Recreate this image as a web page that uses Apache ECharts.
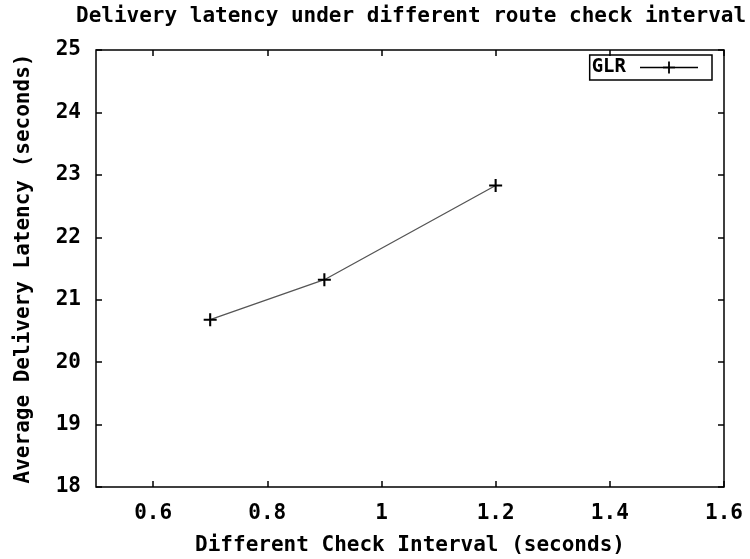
<!DOCTYPE html>
<html>
<head>
<meta charset="utf-8">
<script src="https://cdn.jsdelivr.net/npm/echarts@6/dist/echarts.min.js"></script>
<style>html,body{margin:0;padding:0;background:#fff}#c{width:750px;height:559px}</style>
</head>
<body>
<div id="c"></div>
<script>
var checkInterval = [0.7, 0.9, 1.2];
var glrLatency = [20.68, 21.32, 22.83];
var xTicks = [0.6, 0.8, 1, 1.2, 1.4, 1.6];
var yTicks = [18, 19, 20, 21, 22, 23, 24, 25];

var FONT = 'DejaVu Sans Mono';
var chart = echarts.init(document.getElementById('c'), null, {renderer: 'canvas'});
var cross = 'path://M4.2,0H5.8V4.2H10V5.8H5.8V10H4.2V5.8H0V4.2H4.2Z';
var legendIcon = 'path://M0,5.3H58V6.7H0Z M28.1,0H29.9V5.1H35V6.9H29.9V12H28.1V6.9H23V5.1H28.1Z';

var pts = checkInterval.map(function (x, i) { return [x, glrLatency[i]]; });

function xAxisBase(pos, showLabel) {
  return {
    type: 'value', position: pos, min: 0.5, max: 1.6,
    axisLine: {show: false},
    splitLine: {show: false},
    axisTick: {show: true, inside: true, length: 6, customValues: xTicks, lineStyle: {color: '#000', width: 1.5}},
    axisLabel: {show: showLabel, customValues: xTicks, color: '#000', fontFamily: FONT, fontWeight: 'bold', fontSize: 21, margin: 16}
  };
}
function yAxisBase(pos, showLabel) {
  return {
    type: 'value', position: pos, min: 18, max: 25, interval: 1,
    axisLine: {show: false},
    splitLine: {show: false},
    axisTick: {show: true, inside: true, length: 6, customValues: yTicks, lineStyle: {color: '#000', width: 1.5}},
    axisLabel: {show: showLabel, customValues: yTicks, color: '#000', fontFamily: FONT, fontWeight: 'bold', fontSize: 21, margin: 15}
  };
}

var xb = xAxisBase('bottom', true);
xb.name = 'Different Check Interval (seconds)';
xb.nameLocation = 'middle';
xb.nameGap = 48;
xb.nameTextStyle = {color: '#000', fontFamily: FONT, fontWeight: 'bold', fontSize: 21};
var xt = xAxisBase('top', false);

var yl = yAxisBase('left', true);
yl.name = 'Average Delivery Latency (seconds)';
yl.nameLocation = 'middle';
yl.nameGap = 62;
yl.nameTextStyle = {color: '#000', fontFamily: FONT, fontWeight: 'bold', fontSize: 21};
var yr = yAxisBase('right', false);

chart.setOption({
  animation: false,
  backgroundColor: '#fff',
  title: {
    text: 'Delivery latency under different route check interval',
    left: 71, top: 1,
    textStyle: {color: '#000', fontFamily: FONT, fontWeight: 'bold', fontSize: 21}
  },
  grid: {left: 96, right: 26, top: 50, bottom: 72, outerBoundsMode: 'none', containLabel: false,
    show: true, borderColor: '#000', borderWidth: 1.5, backgroundColor: 'transparent'},
  legend: {
    show: true, right: 38, top: 55, align: 'right', orient: 'horizontal',
    padding: [3, 14, 3, 2], itemGap: 0, itemWidth: 58, itemHeight: 12,
    borderColor: '#000', borderWidth: 1.5,
    textStyle: {color: '#000', fontFamily: FONT, fontWeight: 'bold', fontSize: 19, padding: [0, 9, 0, 0]},
    data: [{name: 'GLR', icon: legendIcon, itemStyle: {color: '#000'}}]
  },
  xAxis: [xb, xt],
  yAxis: [yl, yr],
  series: [{
    name: 'GLR', type: 'line', xAxisIndex: 0, yAxisIndex: 0,
    data: pts, symbol: cross, symbolSize: 13,
    itemStyle: {color: '#000'},
    lineStyle: {color: '#555', width: 1.3}
  }]
});
</script>
</body>
</html>
